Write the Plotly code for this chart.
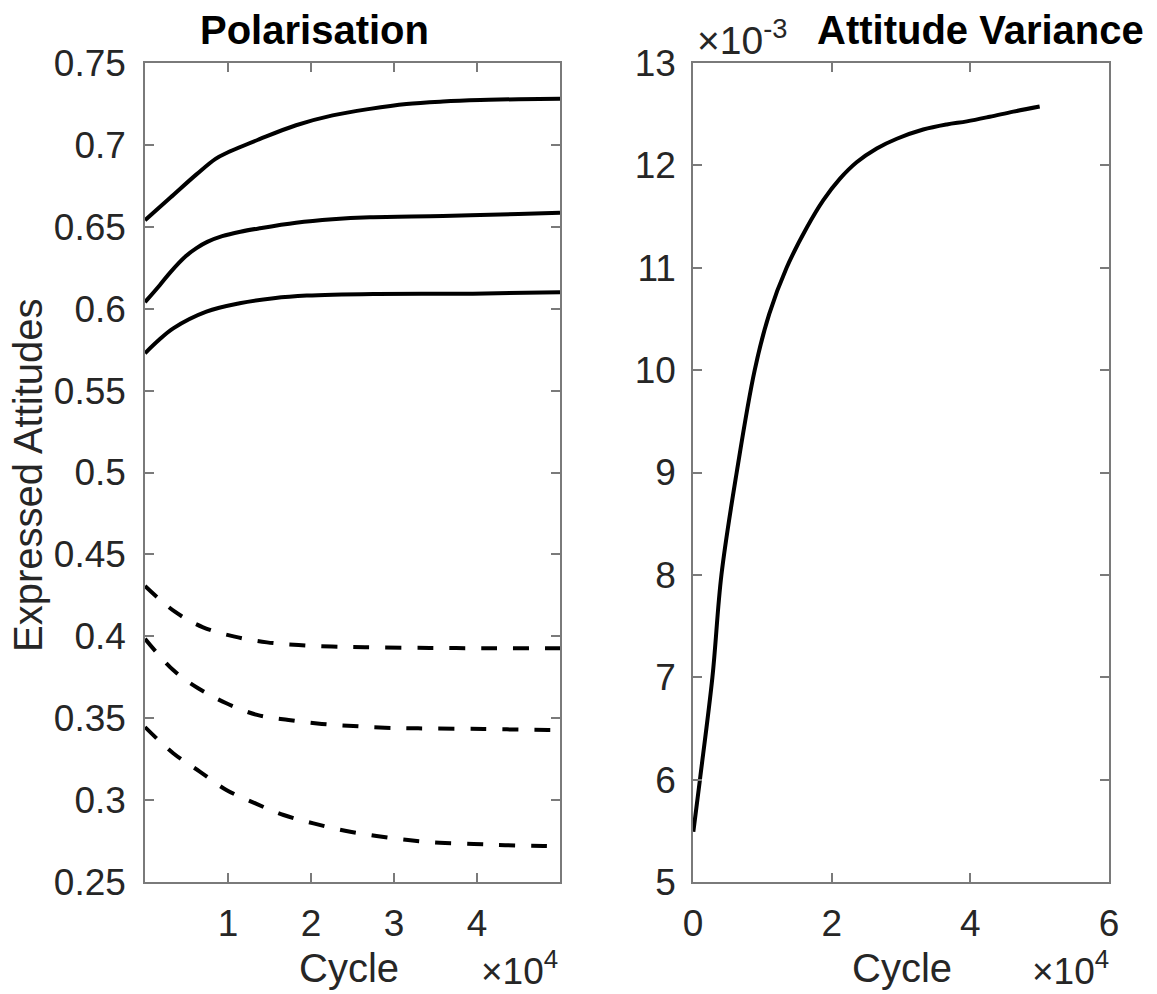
import plotly.graph_objects as go

# ---------------- data ----------------
# Left panel: Polarisation (x = cycle)
pos_high_x = [0, 3100, 6200, 8500, 10000, 13800, 18200, 22600, 27100, 31500, 35900, 40400, 45000, 50000]
pos_high_y = [0.654, 0.668, 0.682, 0.6915, 0.6955, 0.7035, 0.712, 0.718, 0.722, 0.725, 0.7265, 0.7274, 0.7279, 0.7282]

pos_mid_x = [0, 1800, 3100, 4900, 6200, 7500, 9300, 11500, 13800, 18200, 22600, 27100, 35900, 45000, 50000]
pos_mid_y = [0.604, 0.6145, 0.6225, 0.632, 0.637, 0.6408, 0.6443, 0.647, 0.6491, 0.6525, 0.6546, 0.6558, 0.6566, 0.6578, 0.6586]

pos_low_x = [0, 1700, 3400, 7400, 11400, 15500, 19500, 27500, 39500, 50000]
pos_low_y = [0.5728, 0.581, 0.588, 0.5982, 0.6033, 0.6064, 0.608, 0.609, 0.6092, 0.610]

neg_high_x = [0, 3600, 7000, 10800, 14700, 18500, 22500, 26500, 34300, 42000, 50000]
neg_high_y = [0.4307, 0.415, 0.4055, 0.3998, 0.3963, 0.3947, 0.3937, 0.3933, 0.3929, 0.3927, 0.3927]

neg_mid_x = [0, 3400, 6400, 9800, 13500, 17300, 21300, 25100, 28900, 32900, 40800, 48600, 50000]
neg_mid_y = [0.3985, 0.3794, 0.3683, 0.3591, 0.352, 0.3489, 0.3465, 0.3452, 0.3442, 0.3438, 0.3434, 0.3428, 0.3428]

neg_low_x = [0, 3400, 6600, 9800, 13300, 16700, 20300, 24100, 27900, 31700, 35500, 39600, 43400, 48000, 50000]
neg_low_y = [0.3446, 0.3286, 0.3174, 0.3062, 0.298, 0.2909, 0.2858, 0.2813, 0.2781, 0.2756, 0.274, 0.2732, 0.2725, 0.272, 0.2718]

# Right panel: Attitude Variance
var_x = [50, 1000, 2800, 4100, 6300, 8900, 11000, 13500, 16400, 18800, 21200, 23600, 26500, 29400,
         33200, 36600, 39500, 42800, 46200, 50000]
var_y = [0.00549, 0.0060, 0.0070, 0.0080, 0.0090, 0.0100, 0.01055, 0.0110, 0.01139, 0.01166, 0.01187,
         0.01203, 0.012165, 0.01226, 0.01235, 0.0124, 0.01243, 0.012475, 0.012525, 0.012575]

# Tick labels
left_xticks = [10000, 20000, 30000, 40000]
left_xticklabels = ["1", "2", "3", "4"]
left_yticks = [0.25, 0.3, 0.35, 0.4, 0.45, 0.5, 0.55, 0.6, 0.65, 0.7, 0.75]
left_yticklabels = ["0.25", "0.3", "0.35", "0.4", "0.45", "0.5", "0.55", "0.6", "0.65", "0.7", "0.75"]
right_xticks = [0, 20000, 40000, 60000]
right_xticklabels = ["0", "2", "4", "6"]
right_yticks = [0.005, 0.006, 0.007, 0.008, 0.009, 0.010, 0.011, 0.012, 0.013]
right_yticklabels = ["5", "6", "7", "8", "9", "10", "11", "12", "13"]

# ---------------- figure ----------------
W, H = 1157, 994
FONT = "Liberation Sans, Arial, Helvetica, sans-serif"
TICKC = "#262626"
AXC = "#7a7a7a"


def px(x):
    return x / W


def py(y):
    return 1 - y / H


fig = go.Figure()
line_solid = dict(color="black", width=4)
line_dash = dict(color="black", width=4, dash="16px,16px")

for xs, ys in [(pos_high_x, pos_high_y), (pos_mid_x, pos_mid_y), (pos_low_x, pos_low_y)]:
    fig.add_trace(go.Scatter(x=xs, y=ys, mode="lines", line=line_solid, line_shape="spline",
                             xaxis="x", yaxis="y", showlegend=False))
for xs, ys in [(neg_high_x, neg_high_y), (neg_mid_x, neg_mid_y), (neg_low_x, neg_low_y)]:
    fig.add_trace(go.Scatter(x=xs, y=ys, mode="lines", line=line_dash, line_shape="spline",
                             xaxis="x", yaxis="y", showlegend=False))
fig.add_trace(go.Scatter(x=var_x, y=var_y, mode="lines", line=line_solid, line_shape="spline",
                         xaxis="x2", yaxis="y2", showlegend=False))

axis_common = dict(showline=True, linecolor=AXC, linewidth=1.5, mirror="ticks",
                   ticks="inside", ticklen=9, tickwidth=1.5, tickcolor=AXC,
                   showgrid=False, zeroline=False, automargin=False,
                   tickfont=dict(family=FONT, size=37, color=TICKC))

fig.update_layout(
    width=W, height=H,
    margin=dict(l=0, r=0, t=0, b=0, autoexpand=False),
    paper_bgcolor="white", plot_bgcolor="white",
    xaxis=dict(domain=[px(145), px(560)], range=[0, 50000], tickvals=left_xticks,
               ticktext=left_xticklabels, anchor="y", ticklabelstandoff=8, **axis_common),
    yaxis=dict(domain=[py(882), py(63)], range=[0.25, 0.75], tickvals=left_yticks,
               ticktext=left_yticklabels, anchor="x", ticklabelstandoff=10, **axis_common),
    xaxis2=dict(domain=[px(693), px(1109)], range=[0, 60000], tickvals=right_xticks,
                ticktext=right_xticklabels, anchor="y2", ticklabelstandoff=8, **axis_common),
    yaxis2=dict(domain=[py(882), py(63)], range=[0.005, 0.013], tickvals=right_yticks,
                ticktext=right_yticklabels, anchor="x2", ticklabelstandoff=8, **axis_common),
)

annotations = [
    dict(text="<b>Polarisation</b>", x=px(314), y=py(30), xanchor="center", yanchor="middle",
         font=dict(family=FONT, size=40, color="black")),
    dict(text="<b>Attitude Variance</b>", x=px(980), y=py(30), xanchor="center", yanchor="middle",
         font=dict(family=FONT, size=40, color="black")),
    dict(text="Cycle", x=px(349), y=py(968), xanchor="center", yanchor="middle",
         font=dict(family=FONT, size=40, color=TICKC)),
    dict(text="Cycle", x=px(902), y=py(968), xanchor="center", yanchor="middle",
         font=dict(family=FONT, size=40, color=TICKC)),
    dict(text="Expressed Attitudes", x=px(28), y=py(475), xanchor="center", yanchor="middle",
         textangle=-90, font=dict(family=FONT, size=40, color=TICKC)),
    dict(text="×10<sup>4</sup>", x=px(560), y=py(994), xanchor="right", yanchor="bottom",
         font=dict(family=FONT, size=37, color=TICKC)),
    dict(text="×10<sup>4</sup>", x=px(1111), y=py(994), xanchor="right", yanchor="bottom",
         font=dict(family=FONT, size=37, color=TICKC)),
    dict(text="×10<sup>-3</sup>", x=px(695), y=py(64), xanchor="left", yanchor="bottom",
         font=dict(family=FONT, size=39, color=TICKC)),
]
for a in annotations:
    a.update(xref="paper", yref="paper", showarrow=False)
fig.update_layout(annotations=annotations)

fig.write_html("out.html")
